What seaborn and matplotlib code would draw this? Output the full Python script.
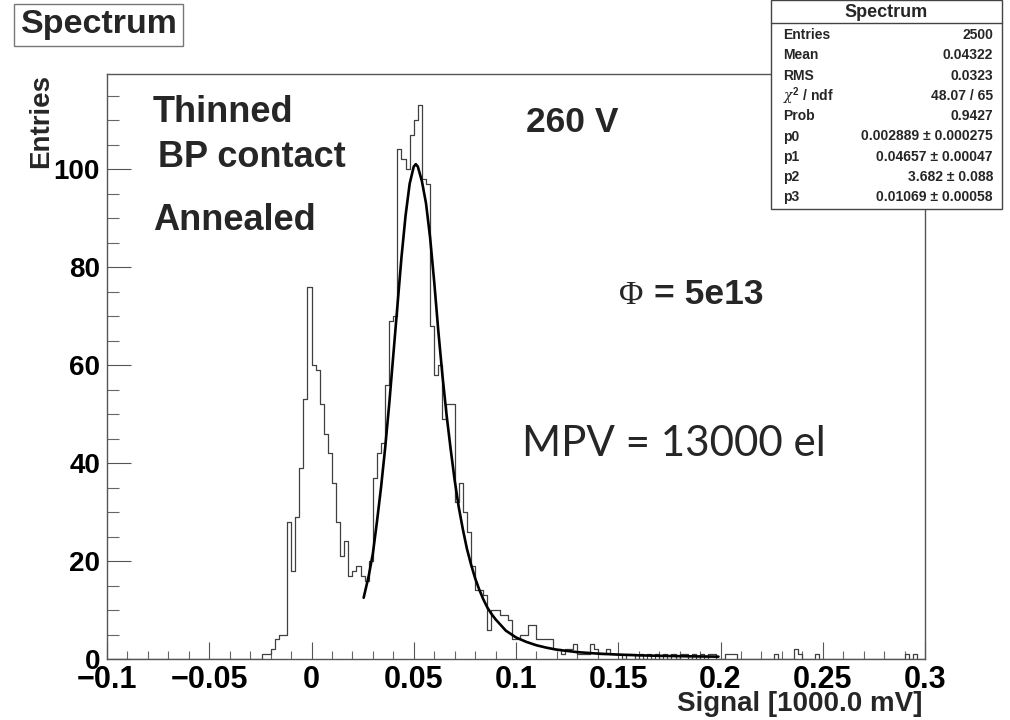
import numpy as np
import pandas as pd
import matplotlib
matplotlib.use("Agg")
import matplotlib.pyplot as plt
import seaborn as sns
from matplotlib.patches import Rectangle
from matplotlib.lines import Line2D
from matplotlib.ticker import MultipleLocator

# ---------------- data ----------------
bin_width = 0.002
x_range = (-0.1, 0.3)

core_start = -0.026          # left edge of first listed bin
core_counts = [0, 1, 1, 2, 4, 5, 5, 28, 18, 29, 39, 53, 76,          # -0.026 .. -0.002
               60, 59, 52, 46, 42, 36, 28, 21, 24, 17, 18, 19, 17,   # 0.000 .. 0.024
               16, 20, 37, 42, 44, 56, 69, 70, 104, 102, 100, 107,   # 0.026 .. 0.048
               110, 113, 98, 97, 68, 58, 60, 49, 52, 52, 32, 36,     # 0.050 .. 0.072
               30, 26, 19, 14, 14, 13, 6, 10, 10, 9, 9, 8,           # 0.074 .. 0.096
               4, 4, 5, 5, 7, 7, 4, 4, 4, 4, 2, 2,                   # 0.098 .. 0.120
               1, 2, 2, 3, 1, 1, 1, 3, 2, 1, 1, 2, 1, 1]             # 0.122 .. 0.148

tail_x = [0.150, 0.154, 0.156, 0.160, 0.164, 0.168, 0.172, 0.176, 0.180, 0.182,
          0.186, 0.190, 0.194, 0.196, 0.202, 0.204, 0.206, 0.226, 0.236, 0.238,
          0.246, 0.290, 0.294]
tail_counts = [1, 1, 1, 1, 1, 1, 1, 1, 1, 1,
               1, 1, 1, 1, 1, 1, 1, 1, 2, 1,
               1, 1, 1]

fit_x = [0.0255, 0.028, 0.030, 0.032, 0.034, 0.036, 0.038, 0.040, 0.042, 0.044,
         0.046, 0.048, 0.050, 0.051, 0.052, 0.054, 0.056, 0.058, 0.060, 0.062,
         0.064, 0.066, 0.068, 0.070, 0.072, 0.074, 0.076, 0.078, 0.080, 0.082,
         0.084, 0.086, 0.088, 0.090, 0.095, 0.100, 0.105, 0.110, 0.115, 0.120,
         0.130, 0.140, 0.150, 0.160, 0.170, 0.180, 0.190, 0.199]
fit_y = [12.5, 17.0, 21.5, 28.0, 35.0, 43.0, 52.0, 62.0, 72.0, 82.0,
         90.5, 97.0, 100.5, 101.0, 100.5, 97.5, 93.0, 86.0, 77.0, 67.0,
         58.0, 50.0, 43.0, 36.5, 31.0, 26.5, 22.5, 19.3, 16.5, 14.2,
         12.2, 10.5, 9.2, 8.1, 5.8, 4.4, 3.5, 2.8, 2.3, 1.9,
         1.4, 1.1, 0.9, 0.75, 0.65, 0.58, 0.52, 0.48]

x_ticks = [-0.1, -0.05, 0, 0.05, 0.1, 0.15, 0.2, 0.25, 0.3]
x_ticklabels = ["\u22120.1", "\u22120.05", "0", "0.05", "0.1", "0.15", "0.2", "0.25", "0.3"]
y_ticks = [0, 20, 40, 60, 80, 100]
y_max = 119.4

stats_title = "Spectrum"
stats_labels = ["Entries", "Mean", "RMS", r"$\chi^2$ / ndf", "Prob", "p0", "p1", "p2", "p3"]
stats_values = ["2500", "0.04322", "0.0323", "48.07 / 65", "0.9427",
                "0.002889 \u00b1 0.000275", "0.04657 \u00b1 0.00047",
                "3.682 \u00b1 0.088", "0.01069 \u00b1 0.00058"]

# ---------------- figure ----------------
sns.set_theme(style="white")
plt.rcParams["font.family"] = ["Liberation Sans", "DejaVu Sans"]
plt.rcParams["mathtext.fontset"] = "custom"
plt.rcParams["mathtext.rm"] = "Liberation Sans:bold"
plt.rcParams["mathtext.it"] = "DejaVu Serif:italic"
plt.rcParams["mathtext.bf"] = "Liberation Sans:bold"

W, H = 1010, 720
fig = plt.figure(figsize=(W / 100, H / 100), dpi=100)
fig.patch.set_facecolor("white")


def fx(px):
    return px / W


def fy(py):
    return 1 - py / H


ax_l, ax_r, ax_t, ax_b = 107, 925, 74, 659
ax = fig.add_axes([fx(ax_l), fy(ax_b), (ax_r - ax_l) / W, (ax_b - ax_t) / H])
ax.set_facecolor("white")

nb = int(round((x_range[1] - x_range[0]) / bin_width))
edges = np.round(np.linspace(x_range[0], x_range[1], nb + 1), 6)
centers = (edges[:-1] + edges[1:]) / 2
counts = np.zeros(nb)
i0 = int(round((core_start - x_range[0]) / bin_width))
counts[i0:i0 + len(core_counts)] = core_counts
for xv, c in zip(tail_x, tail_counts):
    counts[int(round((xv - x_range[0]) / bin_width))] = c

df = pd.DataFrame({"signal": centers, "n": counts})
sns.histplot(data=df, x="signal", weights="n", binwidth=bin_width, binrange=x_range,
             element="step", fill=False, color="#404040", linewidth=0.9, ax=ax)
fit_df = pd.DataFrame({"x": fit_x, "y": fit_y})
sns.lineplot(data=fit_df, x="x", y="y", color="black", linewidth=1.9, ax=ax,
             sort=False, estimator=None)

ax.set_xlim(*x_range)
ax.set_ylim(0, y_max)
ax.set_xlabel("")
ax.set_ylabel("")
ax.set_xticks(x_ticks)
ax.set_xticklabels(x_ticklabels)
ax.set_yticks(y_ticks)
ax.xaxis.set_minor_locator(MultipleLocator(0.01))
ax.yaxis.set_minor_locator(MultipleLocator(5))
ax.tick_params(axis="x", which="major", direction="in", length=12.2, width=0.8,
               color="#555555", pad=4, labelsize=22, bottom=True, top=False)
ax.tick_params(axis="x", which="minor", direction="in", length=5.8, width=0.8,
               color="#666666", bottom=True, top=False)
ax.tick_params(axis="y", which="major", direction="in", length=17, width=0.8,
               color="#555555", pad=5, labelsize=20, left=True, right=False)
ax.tick_params(axis="y", which="minor", direction="in", length=8.6, width=0.8,
               color="#666666", left=True, right=False)
for lab in ax.get_xticklabels() + ax.get_yticklabels():
    lab.set_fontweight("bold")
    lab.set_color("black")
for s in ax.spines.values():
    s.set_color("#555555")
    s.set_linewidth(1.0)
    s.set_visible(True)

# axis titles
fig.text(fx(41), fy(74), "Entries", rotation=90, ha="center", va="top",
         fontsize=20, fontweight="bold")
fig.text(fx(922), fy(711), "Signal [1000.0 mV]", ha="right", va="baseline",
         fontsize=20, fontweight="bold")

# title box
fig.add_artist(Rectangle((fx(14), fy(46)), (183 - 14) / W, (46 - 4) / H,
                         transform=fig.transFigure, facecolor="white",
                         edgecolor="#777777", linewidth=1.0))
fig.text(fx(99), fy(25), "Spectrum", ha="center", va="center",
         fontsize=24.5, fontweight="bold")

# annotations
fig.text(fx(153), fy(122), "Thinned", ha="left", va="baseline", fontsize=26, fontweight="bold")
fig.text(fx(158), fy(167), "BP contact", ha="left", va="baseline", fontsize=26, fontweight="bold")
fig.text(fx(153), fy(230), "Annealed", ha="left", va="baseline", fontsize=26, fontweight="bold")
fig.text(fx(526), fy(132.5), "260 V", ha="left", va="baseline", fontsize=25.5, fontweight="bold")
fig.text(fx(619), fy(304.5), "\u03a6", ha="left", va="baseline", fontsize=24,
         family=["Liberation Serif", "DejaVu Serif"])
fig.text(fx(654), fy(304.5), "= 5e13", ha="left", va="baseline", fontsize=25.5, fontweight="bold")
fig.text(fx(522), fy(456), "MPV = 13000 el", ha="left", va="baseline", fontsize=30.3,
         family=["Lato", "DejaVu Sans"])

# stats box
sx0, sx1, sy0, sy1 = 771, 1002, 0, 209
fig.add_artist(Rectangle((fx(sx0), fy(sy1)), (sx1 - sx0) / W, (sy1 - sy0) / H,
                         transform=fig.transFigure, facecolor="white",
                         edgecolor="#444444", linewidth=1.0, zorder=10))
fig.add_artist(Line2D([fx(sx0), fx(sx1)], [fy(23), fy(23)], transform=fig.transFigure,
                      color="#444444", linewidth=1.0, zorder=11))
fig.text(fx((sx0 + sx1) / 2), fy(12.5), stats_title, ha="center", va="center",
         fontsize=13, fontweight="bold", zorder=12)
for i, (lab, val) in enumerate(zip(stats_labels, stats_values)):
    yy = 35 + i * 20.3
    fig.text(fx(783), fy(yy), lab, ha="left", va="center", fontsize=10,
             fontweight="bold", zorder=12)
    fig.text(fx(993), fy(yy), val, ha="right", va="center", fontsize=10,
             fontweight="bold", zorder=12)

fig.savefig("out.png", dpi=100, facecolor="white")
